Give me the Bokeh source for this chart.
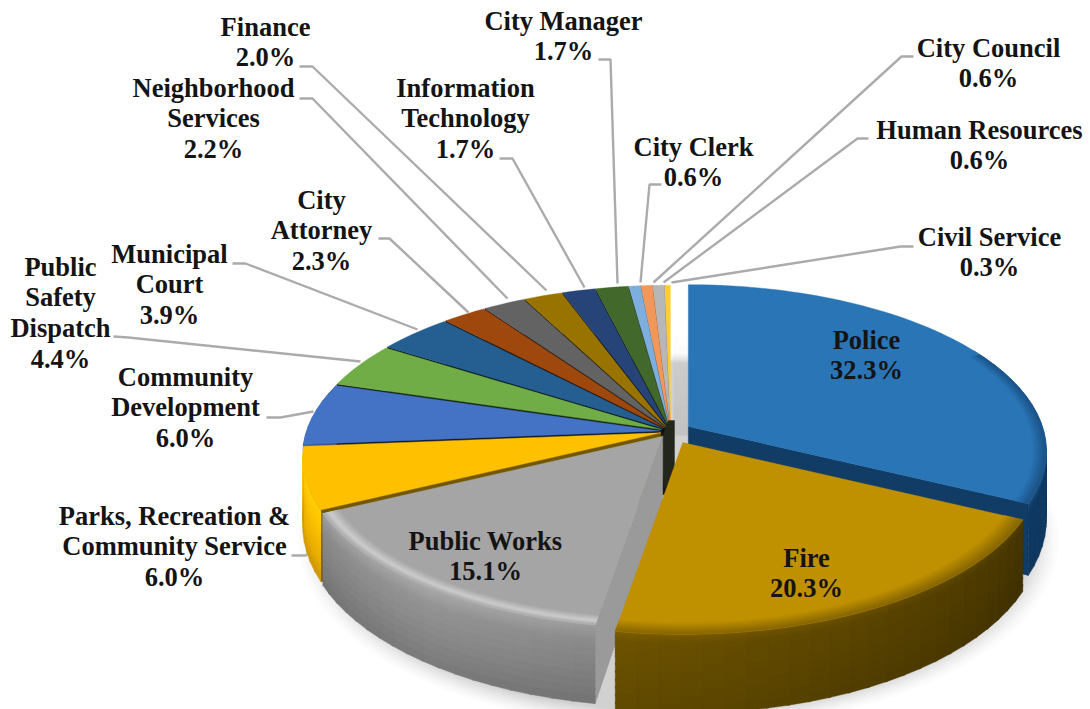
import numpy as np
from bokeh.core.properties import value
from bokeh.embed import file_html
from bokeh.models import ColumnDataSource, Range1d
from bokeh.plotting import figure
from bokeh.resources import INLINE

# Budget share by department, clockwise from twelve o'clock
departments = [
    ["Police"], ["Fire"], ["Public Works"],
    ["Parks, Recreation &", "Community Service"],
    ["Community", "Development"],
    ["Public", "Safety", "Dispatch"],
    ["Municipal", "Court"],
    ["City", "Attorney"],
    ["Neighborhood", "Services"],
    ["Finance"],
    ["Information", "Technology"],
    ["City Manager"],
    ["City Clerk"],
    ["City Council"],
    ["Human Resources"],
    ["Civil Service"],
]
shares = [32.3, 20.3, 15.1, 6.0, 6.0, 4.4, 3.9, 2.3, 2.2, 2.0, 1.7, 1.7, 0.6, 0.6, 0.6, 0.3]
colors = ["#2a75b6", "#bf9000", "#a5a5a5", "#ffc000", "#4472c4", "#70ad47", "#255e91", "#9e480e",
          "#636363", "#997300", "#264478", "#43682b", "#7cafdd", "#f1975a", "#b7b7b7", "#ffcd33"]

# Centre of each label block and the x, y of its first line
label_anchor = [(866, 339), (806, 557), (485, 540), (174, 515), (185, 376), (60, 266), (169, 253), (321, 199),
                (213, 87), (265, 26), (465, 87), (563, 20), (693, 146), (988, 47), (979, 129), (989, 236)]
LINE_STEP = 30.8

# Leader elbows for the outside labels, by slice index: start, elbow, end
leaders = {
    3: [(291, 555), (305, 555), (310, 552)],
    4: [(266, 417), (280, 417), (313, 411)],
    5: [(113, 336), (128, 337), (360, 361)],
    6: [(232, 263), (245, 263), (417, 329)],
    7: [(378, 238), (389, 238), (468, 312)],
    8: [(299, 98), (312, 98), (507, 298)],
    9: [(299, 66), (312, 66), (546, 290)],
    10: [(499, 158), (512, 158), (584, 287)],
    11: [(598, 59), (610, 59), (617, 283)],
    12: [(661, 184), (649, 184), (640, 282)],
    13: [(913, 56), (901, 56), (653, 282)],
    14: [(868, 138), (857, 138), (663, 282)],
    15: [(913, 246), (900, 246), (671, 282)],
}

# Projection of the tilted disc into page pixels
CX, CY = 670.0, 431.0
RX, RY = 354.0, 163.0
PERSP = 0.15
DEPTH = 67.0
explode = [21, 27, 13] + [10] * 13


def hex_rgb(h):
    return np.array([int(h[i:i + 2], 16) for i in (1, 3, 5)], dtype=float)


def to_hex(c):
    c = np.clip(np.round(c), 0, 255).astype(int)
    return "#%02x%02x%02x" % tuple(c)


def ramp(stops, t):
    ts = [s[0] for s in stops]
    return np.array([np.interp(t, ts, [s[1][i] for s in stops]) for i in range(3)])


def project(theta, apex, r=1.0, lift=0.0):
    th = np.radians(theta)
    u, v = np.sin(th), -np.cos(th)
    s = 1.0 / (1.0 - PERSP * v * r)
    return apex[0] + RX * u * r * s, apex[1] + RY * v * r * s + lift * s


edges = np.concatenate([[0], np.cumsum(shares)]) * 3.6
starts, ends = edges[:-1], edges[1:]
apexes = []
for i, sh in enumerate(shares):
    mid = np.radians((starts[i] + ends[i]) / 2)
    apexes.append((CX + explode[i] * np.sin(mid), CY - explode[i] * np.cos(mid) * 0.46))

xs, ys, fills, alphas = [], [], [], []


def add(px, py, color, alpha=1.0):
    xs.append(list(px))
    ys.append(list(py))
    fills.append(color)
    alphas.append(alpha)


def arc(a0, a1, apex, r=1.0, lift=0.0, step=1.5):
    n = max(2, int(abs(a1 - a0) / step) + 1)
    ang = np.linspace(a0, a1, n)
    return project(ang, apex, r, lift)


def add_top(i):
    ax, ay = arc(starts[i], ends[i], apex=apexes[i])
    add(np.r_[apexes[i][0], ax], np.r_[apexes[i][1], ay], colors[i])


def add_rings(i, stops, a0=None, a1=None):
    # soft bevel on the top face near the outer edge
    a0 = starts[i] if a0 is None else a0
    a1 = ends[i] if a1 is None else a1
    rs = np.linspace(stops[0][0], 1.0, 13)
    for r0, r1 in zip(rs[:-1], rs[1:]):
        ox, oy = arc(a0, a1, apexes[i], r1)
        ix, iy = arc(a1, a0, apexes[i], r0 - 0.003)
        add(np.r_[ox, ix], np.r_[oy, iy], to_hex(ramp(stops, (r0 + r1) / 2)))


def add_rim(i, stops, shade=None, a0=None, a1=None, step=3.0):
    # outer wall, split in small overlapping cells so it can shade along and across
    a0 = starts[i] if a0 is None else a0
    a1 = ends[i] if a1 is None else a1
    n = max(2, int((a1 - a0) / step) + 1)
    ang = np.linspace(a0, a1, n)
    ts = np.r_[np.linspace(0, .3, 9), np.linspace(.4, 1, 7)]
    for b0, b1 in zip(ang[:-1], ang[1:]):
        k = 1.0 if shade is None else shade((b0 + b1) / 2)
        b1x = min(b1 + 0.4, a1)
        for t0, t1 in zip(ts[:-1], ts[1:]):
            t1x = min(t1 + 0.025, 1.0)
            x0, y0 = project(b0, apexes[i], 1, t0 * DEPTH)
            x1, y1 = project(b1x, apexes[i], 1, t0 * DEPTH)
            x2, y2 = project(b1x, apexes[i], 1, t1x * DEPTH)
            x3, y3 = project(b0, apexes[i], 1, t1x * DEPTH)
            add([x0, x1, x2, x3], [y0, y1, y2, y3], to_hex(ramp(stops, (t0 + t1) / 2) * k))


def add_wall(i, theta, color):
    # flat radial wall from the apex out to the rim
    apex = apexes[i]
    ex, ey = project(theta, apex)
    bx, by = project(theta, apex, 1, DEPTH)
    add([apex[0], ex, bx, apex[0]], [apex[1], ey, by, apex[1] + DEPTH], color)


# Soft cast shadow below the body
for r, alpha in zip(np.linspace(1.06, 0.99, 9), [.018, .02, .024, .028, .03, .035, .04, .045, .05]):
    sx, sy = project(np.linspace(0, 360, 180), (CX + 8, CY + 13), r, DEPTH)
    add(sx, sy, "#555555", alpha)

# Shade falling into the notch beside the largest slice
for y0, y1, alpha in zip(np.arange(335, 435, 10), np.arange(345, 445, 10), np.linspace(.01, .13, 10)):
    add([CX + 3, CX + 20, CX + 20, CX + 3], [y0, y0, y1, y1], "#666666", alpha)

leader_x = [[q[0] for q in leaders[k]] for k in leaders]
leader_y = [[q[1] for q in leaders[k]] for k in leaders]

# Small slices, painted from the back towards the viewer
for i in range(len(shares) - 1, 2, -1):
    k = 0.45 if i == 3 else 0.16
    add_wall(i, starts[i], to_hex(hex_rgb(colors[i]) * k))
    if i == 3:
        add_rim(i, [(0, (255, 208, 10)), (.3, (252, 195, 0)), (.75, (232, 172, 0)), (1, (205, 150, 0))])
    if i == 4:
        add_rim(i, [(0, (60, 100, 180)), (1, (40, 70, 130))])
    add_top(i)

# Dark core where the small slices meet
add([CX - 2, CX + 4, CX + 4, CX - 6, CX - 10],
    [CY - 11, CY - 11, CY + 39, CY + 58, CY + 9], "#23261c")

# Largest slice
police, fire, works = 0, 1, 2
add_wall(police, ends[police], "#103c66")
add_rim(police, [(0, (24, 74, 122)), (.12, (15, 58, 100)), (1, (15, 55, 95))], a0=60)
add_top(police)
add_rings(police, [(.965, hex_rgb(colors[police])), (1.0, (28, 84, 136))], a0=62)

# Third slice with its pale bevel
add_wall(works, starts[works], "#9a9a9a")
add_rim(works, [(0, (165, 165, 165)), (.2, (146, 146, 146)), (.6, (134, 134, 134)), (1, (120, 120, 120))],
        shade=lambda a: np.interp(a, [189, 215, 244], [.95, 1.02, .96]))
add_top(works)
add_rings(works, [(.955, hex_rgb(colors[works])), (.985, (204, 204, 204)), (1.0, (172, 172, 172))])

# Second slice
add_rim(fire, [(0, (120, 90, 0)), (.12, (104, 79, 0)), (1, (92, 70, 0))],
        shade=lambda a: np.interp(a, [116, 150, 190], [.68, .85, 1.05]))
add_top(fire)
add_rings(fire, [(.95, hex_rgb(colors[fire])), (1.0, (136, 103, 0))])

p = figure(width=1090, height=709, x_range=Range1d(0, 1090), y_range=Range1d(709, 0),
           output_backend="svg", toolbar_location=None, min_border=0)
p.axis.visible = False
p.grid.visible = False
p.outline_line_color = None
p.background_fill_color = "#ffffff"

n_shadow = 9 + 10
shadow = ColumnDataSource(dict(x=xs[:n_shadow], y=ys[:n_shadow], fill=fills[:n_shadow], alpha=alphas[:n_shadow]))
body = ColumnDataSource(dict(x=xs[n_shadow:], y=ys[n_shadow:], fill=fills[n_shadow:]))

p.patches("x", "y", source=shadow, fill_color="fill", fill_alpha="alpha", line_color=None)
p.multi_line(leader_x, leader_y, line_color="#ababab", line_width=2.4)
p.patches("x", "y", source=body, fill_color="fill", line_color="fill", line_width=0.4)

# Two-part labels: department name lines, then the share
tx, ty, tt = [], [], []
for i, (lines, sh) in enumerate(zip(departments, shares)):
    cx, y0 = label_anchor[i]
    for j, line in enumerate(lines + [f"{sh:.1f}%"]):
        tx.append(cx)
        ty.append(y0 + j * LINE_STEP)
        tt.append(line)
p.text(tx, ty, text=tt, text_font=value("Liberation Serif"), text_font_style="bold",
       text_font_size="26.5px", text_align="center", text_baseline="middle", text_color="#141414")

open("out.html", "w").write(file_html(p, INLINE))
